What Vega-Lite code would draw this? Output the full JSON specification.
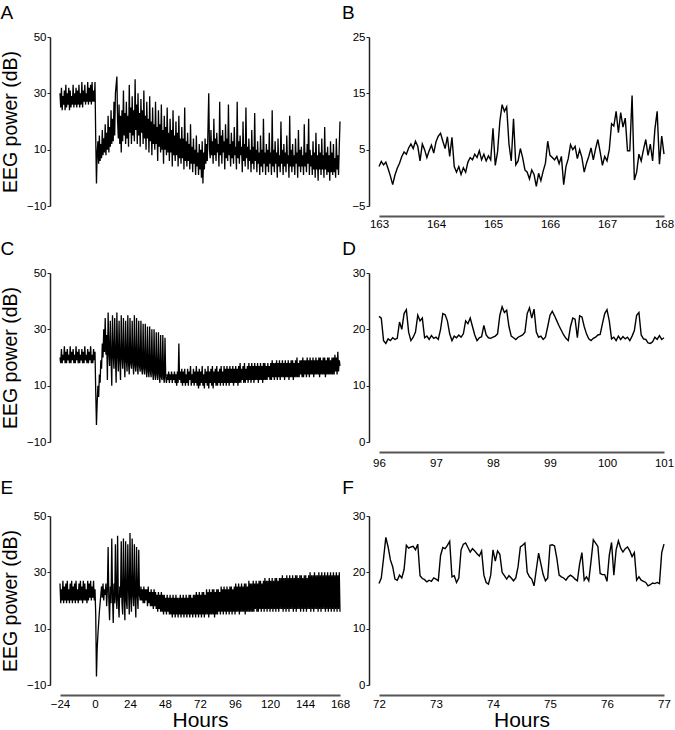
{
"$schema":"https://vega.github.io/schema/vega-lite/v6.json",
"padding":{"top":4,"left":0,"right":4,"bottom":0},
"columns":2,
"align":"each",
"spacing":{"row":10,"column":-9},
"datasets":{
"A":[{"t":-24,"v":30},{"t":-23.5,"v":25},{"t":-23,"v":32},{"t":-22.5,"v":24},{"t":-22,"v":29},{"t":-21.5,"v":26},{"t":-21,"v":31},{"t":-20.5,"v":24},{"t":-20,"v":33},{"t":-19.5,"v":25},{"t":-19,"v":30},{"t":-18.5,"v":26},{"t":-18,"v":32},{"t":-17.5,"v":24},{"t":-17,"v":31},{"t":-16.5,"v":25},{"t":-16,"v":29},{"t":-15.5,"v":26},{"t":-15,"v":33},{"t":-14.5,"v":25},{"t":-14,"v":30},{"t":-13.5,"v":26},{"t":-13,"v":32},{"t":-12.5,"v":25},{"t":-12,"v":31},{"t":-11.5,"v":26},{"t":-11,"v":33},{"t":-10.5,"v":25},{"t":-10,"v":30},{"t":-9.5,"v":26},{"t":-9,"v":34},{"t":-8.5,"v":25},{"t":-8,"v":31},{"t":-7.5,"v":27},{"t":-7,"v":33},{"t":-6.5,"v":26},{"t":-6,"v":30},{"t":-5.5,"v":27},{"t":-5,"v":34},{"t":-4.5,"v":26},{"t":-4,"v":32},{"t":-3.5,"v":27},{"t":-3,"v":33},{"t":-2.5,"v":26},{"t":-2,"v":34},{"t":-1.5,"v":27},{"t":-1,"v":31},{"t":-0.5,"v":27},{"t":0,"v":34},{"t":0.5,"v":14},{"t":1,"v":-2},{"t":1.5,"v":9},{"t":2,"v":13},{"t":2.5,"v":5},{"t":3,"v":15},{"t":3.5,"v":6},{"t":4,"v":12},{"t":4.5,"v":7},{"t":5,"v":17},{"t":5.5,"v":8},{"t":6,"v":14},{"t":6.5,"v":9},{"t":7,"v":19},{"t":7.5,"v":8},{"t":8,"v":16},{"t":8.5,"v":10},{"t":9,"v":22},{"t":9.5,"v":9},{"t":10,"v":18},{"t":10.5,"v":11},{"t":11,"v":24},{"t":11.5,"v":12},{"t":12,"v":21},{"t":12.5,"v":13},{"t":13,"v":27},{"t":13.5,"v":15},{"t":14,"v":30},{"t":14.5,"v":33},{"t":15,"v":36},{"t":15.5,"v":20},{"t":16,"v":14},{"t":16.5,"v":26},{"t":17,"v":12},{"t":17.5,"v":22},{"t":18,"v":9},{"t":18.5,"v":24},{"t":19,"v":13},{"t":19.5,"v":31},{"t":20,"v":15},{"t":20.5,"v":23},{"t":21,"v":12},{"t":21.5,"v":27},{"t":22,"v":14},{"t":22.5,"v":22},{"t":23,"v":11},{"t":23.5,"v":33},{"t":24,"v":16},{"t":24.5,"v":25},{"t":25,"v":12},{"t":25.5,"v":29},{"t":26,"v":15},{"t":26.5,"v":24},{"t":27,"v":13},{"t":27.5,"v":35},{"t":28,"v":17},{"t":28.5,"v":26},{"t":29,"v":12},{"t":29.5,"v":30},{"t":30,"v":15},{"t":30.5,"v":23},{"t":31,"v":11},{"t":31.5,"v":28},{"t":32,"v":16},{"t":32.5,"v":24},{"t":33,"v":12},{"t":33.5,"v":31},{"t":34,"v":14},{"t":34.5,"v":22},{"t":35,"v":10},{"t":35.5,"v":27},{"t":36,"v":14},{"t":36.5,"v":21},{"t":37,"v":9},{"t":37.5,"v":29},{"t":38,"v":13},{"t":38.5,"v":20},{"t":39,"v":8},{"t":39.5,"v":25},{"t":40,"v":12},{"t":40.5,"v":19},{"t":41,"v":10},{"t":41.5,"v":27},{"t":42,"v":12},{"t":42.5,"v":18},{"t":43,"v":6},{"t":43.5,"v":24},{"t":44,"v":11},{"t":44.5,"v":19},{"t":45,"v":9},{"t":45.5,"v":26},{"t":46,"v":10},{"t":46.5,"v":17},{"t":47,"v":5},{"t":47.5,"v":22},{"t":48,"v":10},{"t":48.5,"v":18},{"t":49,"v":8},{"t":49.5,"v":25},{"t":50,"v":9},{"t":50.5,"v":16},{"t":51,"v":6},{"t":51.5,"v":21},{"t":52,"v":9},{"t":52.5,"v":17},{"t":53,"v":4},{"t":53.5,"v":24},{"t":54,"v":8},{"t":54.5,"v":15},{"t":55,"v":6},{"t":55.5,"v":20},{"t":56,"v":8},{"t":56.5,"v":16},{"t":57,"v":4},{"t":57.5,"v":22},{"t":58,"v":7},{"t":58.5,"v":14},{"t":59,"v":5},{"t":59.5,"v":18},{"t":60,"v":7},{"t":60.5,"v":14},{"t":61,"v":3},{"t":61.5,"v":25},{"t":62,"v":6},{"t":62.5,"v":13},{"t":63,"v":4},{"t":63.5,"v":16},{"t":64,"v":6},{"t":64.5,"v":12},{"t":65,"v":3},{"t":65.5,"v":19},{"t":66,"v":5},{"t":66.5,"v":11},{"t":67,"v":2},{"t":67.5,"v":14},{"t":68,"v":5},{"t":68.5,"v":10},{"t":69,"v":1},{"t":69.5,"v":15},{"t":70,"v":4},{"t":70.5,"v":9},{"t":71,"v":1},{"t":71.5,"v":12},{"t":72,"v":3},{"t":72.5,"v":10},{"t":73,"v":0},{"t":73.5,"v":13},{"t":74,"v":-2},{"t":74.5,"v":9},{"t":75,"v":3},{"t":75.5,"v":14},{"t":76,"v":5},{"t":76.5,"v":12},{"t":77,"v":6},{"t":77.5,"v":18},{"t":78,"v":30},{"t":78.5,"v":10},{"t":79,"v":7},{"t":79.5,"v":17},{"t":80,"v":8},{"t":80.5,"v":13},{"t":81,"v":5},{"t":81.5,"v":21},{"t":82,"v":8},{"t":82.5,"v":14},{"t":83,"v":6},{"t":83.5,"v":16},{"t":84,"v":9},{"t":84.5,"v":12},{"t":85,"v":4},{"t":85.5,"v":27},{"t":86,"v":8},{"t":86.5,"v":15},{"t":87,"v":5},{"t":87.5,"v":17},{"t":88,"v":9},{"t":88.5,"v":13},{"t":89,"v":3},{"t":89.5,"v":19},{"t":90,"v":7},{"t":90.5,"v":14},{"t":91,"v":6},{"t":91.5,"v":26},{"t":92,"v":8},{"t":92.5,"v":12},{"t":93,"v":4},{"t":93.5,"v":16},{"t":94,"v":7},{"t":94.5,"v":13},{"t":95,"v":5},{"t":95.5,"v":18},{"t":96,"v":8},{"t":96.5,"v":11},{"t":97,"v":3},{"t":97.5,"v":27},{"t":98,"v":7},{"t":98.5,"v":13},{"t":99,"v":5},{"t":99.5,"v":15},{"t":100,"v":8},{"t":100.5,"v":11},{"t":101,"v":2},{"t":101.5,"v":20},{"t":102,"v":6},{"t":102.5,"v":12},{"t":103,"v":4},{"t":103.5,"v":25},{"t":104,"v":7},{"t":104.5,"v":11},{"t":105,"v":3},{"t":105.5,"v":14},{"t":106,"v":6},{"t":106.5,"v":10},{"t":107,"v":2},{"t":107.5,"v":17},{"t":108,"v":5},{"t":108.5,"v":11},{"t":109,"v":3},{"t":109.5,"v":23},{"t":110,"v":6},{"t":110.5,"v":10},{"t":111,"v":2},{"t":111.5,"v":13},{"t":112,"v":5},{"t":112.5,"v":9},{"t":113,"v":1},{"t":113.5,"v":15},{"t":114,"v":4},{"t":114.5,"v":10},{"t":115,"v":2},{"t":115.5,"v":21},{"t":116,"v":5},{"t":116.5,"v":9},{"t":117,"v":1},{"t":117.5,"v":12},{"t":118,"v":4},{"t":118.5,"v":10},{"t":119,"v":2},{"t":119.5,"v":16},{"t":120,"v":5},{"t":120.5,"v":9},{"t":121,"v":1},{"t":121.5,"v":24},{"t":122,"v":4},{"t":122.5,"v":10},{"t":123,"v":2},{"t":123.5,"v":13},{"t":124,"v":5},{"t":124.5,"v":9},{"t":125,"v":0},{"t":125.5,"v":14},{"t":126,"v":4},{"t":126.5,"v":8},{"t":127,"v":2},{"t":127.5,"v":20},{"t":128,"v":5},{"t":128.5,"v":10},{"t":129,"v":1},{"t":129.5,"v":12},{"t":130,"v":4},{"t":130.5,"v":9},{"t":131,"v":2},{"t":131.5,"v":15},{"t":132,"v":5},{"t":132.5,"v":8},{"t":133,"v":0},{"t":133.5,"v":22},{"t":134,"v":4},{"t":134.5,"v":10},{"t":135,"v":2},{"t":135.5,"v":12},{"t":136,"v":4},{"t":136.5,"v":8},{"t":137,"v":1},{"t":137.5,"v":14},{"t":138,"v":5},{"t":138.5,"v":9},{"t":139,"v":0},{"t":139.5,"v":17},{"t":140,"v":4},{"t":140.5,"v":10},{"t":141,"v":2},{"t":141.5,"v":11},{"t":142,"v":4},{"t":142.5,"v":8},{"t":143,"v":1},{"t":143.5,"v":19},{"t":144,"v":4},{"t":144.5,"v":9},{"t":145,"v":2},{"t":145.5,"v":12},{"t":146,"v":5},{"t":146.5,"v":21},{"t":147,"v":1},{"t":147.5,"v":10},{"t":148,"v":4},{"t":148.5,"v":8},{"t":149,"v":1},{"t":149.5,"v":13},{"t":150,"v":3},{"t":150.5,"v":9},{"t":151,"v":0},{"t":151.5,"v":16},{"t":152,"v":3},{"t":152.5,"v":8},{"t":153,"v":-1},{"t":153.5,"v":12},{"t":154,"v":3},{"t":154.5,"v":9},{"t":155,"v":1},{"t":155.5,"v":14},{"t":156,"v":3},{"t":156.5,"v":8},{"t":157,"v":0},{"t":157.5,"v":18},{"t":158,"v":3},{"t":158.5,"v":9},{"t":159,"v":1},{"t":159.5,"v":11},{"t":160,"v":2},{"t":160.5,"v":8},{"t":161,"v":-1},{"t":161.5,"v":13},{"t":162,"v":2},{"t":162.5,"v":9},{"t":163,"v":1},{"t":163.5,"v":12},{"t":164,"v":2},{"t":164.5,"v":7},{"t":165,"v":0},{"t":165.5,"v":14},{"t":166,"v":3},{"t":166.5,"v":8},{"t":167,"v":1},{"t":167.5,"v":11},{"t":168,"v":20}],
"B":[{"t":163.00,"v":2.0},{"t":163.04,"v":2.9},{"t":163.08,"v":2.3},{"t":163.12,"v":2.8},{"t":163.16,"v":1.6},{"t":163.20,"v":0.3},{"t":163.24,"v":-1.2},{"t":163.28,"v":0.5},{"t":163.32,"v":1.7},{"t":163.36,"v":2.6},{"t":163.40,"v":3.8},{"t":163.44,"v":4.6},{"t":163.48,"v":4.2},{"t":163.52,"v":5.3},{"t":163.56,"v":6.0},{"t":163.60,"v":5.2},{"t":163.64,"v":6.5},{"t":163.68,"v":5.6},{"t":163.72,"v":3.0},{"t":163.76,"v":6.0},{"t":163.80,"v":5.0},{"t":163.84,"v":3.6},{"t":163.88,"v":4.8},{"t":163.92,"v":5.8},{"t":163.96,"v":4.4},{"t":164.00,"v":6.4},{"t":164.04,"v":7.4},{"t":164.08,"v":7.9},{"t":164.12,"v":6.5},{"t":164.16,"v":5.2},{"t":164.20,"v":7.3},{"t":164.24,"v":3.8},{"t":164.28,"v":7.2},{"t":164.32,"v":2.0},{"t":164.36,"v":1.0},{"t":164.40,"v":2.0},{"t":164.44,"v":0.6},{"t":164.48,"v":1.8},{"t":164.52,"v":1.0},{"t":164.56,"v":2.8},{"t":164.60,"v":3.6},{"t":164.64,"v":3.2},{"t":164.68,"v":4.2},{"t":164.72,"v":3.6},{"t":164.76,"v":4.8},{"t":164.80,"v":3.2},{"t":164.84,"v":4.2},{"t":164.88,"v":3.0},{"t":164.92,"v":3.9},{"t":164.96,"v":3.2},{"t":165.00,"v":8.8},{"t":165.04,"v":2.2},{"t":165.08,"v":4.6},{"t":165.12,"v":10.0},{"t":165.16,"v":13.0},{"t":165.20,"v":11.8},{"t":165.24,"v":12.6},{"t":165.28,"v":6.0},{"t":165.32,"v":3.0},{"t":165.36,"v":10.5},{"t":165.40,"v":2.3},{"t":165.44,"v":3.0},{"t":165.48,"v":5.2},{"t":165.52,"v":3.6},{"t":165.56,"v":1.4},{"t":165.60,"v":1.0},{"t":165.64,"v":-0.2},{"t":165.68,"v":1.4},{"t":165.72,"v":0.6},{"t":165.76,"v":-1.5},{"t":165.80,"v":0.8},{"t":165.84,"v":-0.5},{"t":165.88,"v":1.2},{"t":165.92,"v":2.6},{"t":165.96,"v":6.5},{"t":166.00,"v":4.0},{"t":166.04,"v":3.6},{"t":166.08,"v":3.2},{"t":166.12,"v":3.8},{"t":166.16,"v":2.5},{"t":166.20,"v":3.8},{"t":166.24,"v":-1.2},{"t":166.28,"v":2.0},{"t":166.32,"v":3.4},{"t":166.36,"v":5.9},{"t":166.40,"v":5.0},{"t":166.44,"v":5.6},{"t":166.48,"v":3.4},{"t":166.52,"v":5.0},{"t":166.56,"v":3.6},{"t":166.60,"v":1.0},{"t":166.64,"v":2.6},{"t":166.68,"v":3.8},{"t":166.72,"v":5.3},{"t":166.76,"v":3.2},{"t":166.80,"v":5.2},{"t":166.84,"v":6.8},{"t":166.88,"v":4.6},{"t":166.92,"v":2.2},{"t":166.96,"v":3.8},{"t":167.00,"v":3.0},{"t":167.04,"v":5.0},{"t":167.08,"v":9.6},{"t":167.12,"v":9.2},{"t":167.16,"v":11.8},{"t":167.20,"v":8.0},{"t":167.24,"v":11.6},{"t":167.28,"v":9.0},{"t":167.32,"v":10.6},{"t":167.36,"v":4.8},{"t":167.40,"v":4.8},{"t":167.44,"v":14.6},{"t":167.48,"v":-0.4},{"t":167.52,"v":1.0},{"t":167.56,"v":4.2},{"t":167.60,"v":3.0},{"t":167.64,"v":5.0},{"t":167.68,"v":6.8},{"t":167.72,"v":4.0},{"t":167.76,"v":6.0},{"t":167.80,"v":3.0},{"t":167.84,"v":8.6},{"t":167.88,"v":11.8},{"t":167.92,"v":2.4},{"t":167.96,"v":7.4},{"t":168.00,"v":4.2}],
"C":[{"t":-24,"v":20},{"t":-23.5,"v":18},{"t":-23,"v":23},{"t":-22.5,"v":18},{"t":-22,"v":21},{"t":-21.5,"v":19},{"t":-21,"v":24},{"t":-20.5,"v":18},{"t":-20,"v":22},{"t":-19.5,"v":18},{"t":-19,"v":23},{"t":-18.5,"v":19},{"t":-18,"v":21},{"t":-17.5,"v":18},{"t":-17,"v":24},{"t":-16.5,"v":18},{"t":-16,"v":22},{"t":-15.5,"v":19},{"t":-15,"v":23},{"t":-14.5,"v":18},{"t":-14,"v":21},{"t":-13.5,"v":18},{"t":-13,"v":24},{"t":-12.5,"v":19},{"t":-12,"v":22},{"t":-11.5,"v":18},{"t":-11,"v":23},{"t":-10.5,"v":18},{"t":-10,"v":21},{"t":-9.5,"v":19},{"t":-9,"v":23},{"t":-8.5,"v":18},{"t":-8,"v":22},{"t":-7.5,"v":18},{"t":-7,"v":24},{"t":-6.5,"v":19},{"t":-6,"v":21},{"t":-5.5,"v":18},{"t":-5,"v":23},{"t":-4.5,"v":18},{"t":-4,"v":22},{"t":-3.5,"v":19},{"t":-3,"v":24},{"t":-2.5,"v":18},{"t":-2,"v":21},{"t":-1.5,"v":18},{"t":-1,"v":23},{"t":-0.5,"v":19},{"t":0,"v":22},{"t":0.5,"v":8},{"t":1,"v":-4},{"t":1.5,"v":4},{"t":2,"v":10},{"t":2.5,"v":6},{"t":3,"v":14},{"t":3.5,"v":11},{"t":4,"v":19},{"t":4.5,"v":16},{"t":5,"v":25},{"t":5.5,"v":20},{"t":6,"v":30},{"t":6.5,"v":22},{"t":7,"v":34},{"t":7.5,"v":21},{"t":8,"v":28},{"t":8.5,"v":12},{"t":9,"v":36},{"t":9.5,"v":22},{"t":10,"v":17},{"t":10.5,"v":33},{"t":11,"v":20},{"t":11.5,"v":10},{"t":12,"v":35},{"t":12.5,"v":21},{"t":13,"v":16},{"t":13.5,"v":34},{"t":14,"v":20},{"t":14.5,"v":11},{"t":15,"v":36},{"t":15.5,"v":21},{"t":16,"v":15},{"t":16.5,"v":33},{"t":17,"v":19},{"t":17.5,"v":12},{"t":18,"v":35},{"t":18.5,"v":20},{"t":19,"v":16},{"t":19.5,"v":34},{"t":20,"v":19},{"t":20.5,"v":13},{"t":21,"v":33},{"t":21.5,"v":19},{"t":22,"v":15},{"t":22.5,"v":35},{"t":23,"v":18},{"t":23.5,"v":14},{"t":24,"v":34},{"t":24.5,"v":18},{"t":25,"v":16},{"t":25.5,"v":33},{"t":26,"v":18},{"t":26.5,"v":14},{"t":27,"v":35},{"t":27.5,"v":17},{"t":28,"v":15},{"t":28.5,"v":34},{"t":29,"v":17},{"t":29.5,"v":14},{"t":30,"v":33},{"t":30.5,"v":17},{"t":31,"v":15},{"t":31.5,"v":33},{"t":32,"v":16},{"t":32.5,"v":14},{"t":33,"v":32},{"t":33.5,"v":16},{"t":34,"v":14},{"t":34.5,"v":32},{"t":35,"v":16},{"t":35.5,"v":13},{"t":36,"v":31},{"t":36.5,"v":15},{"t":37,"v":13},{"t":37.5,"v":31},{"t":38,"v":15},{"t":38.5,"v":13},{"t":39,"v":30},{"t":39.5,"v":15},{"t":40,"v":12},{"t":40.5,"v":30},{"t":41,"v":14},{"t":41.5,"v":12},{"t":42,"v":29},{"t":42.5,"v":14},{"t":43,"v":12},{"t":43.5,"v":29},{"t":44,"v":14},{"t":44.5,"v":11},{"t":45,"v":28},{"t":45.5,"v":13},{"t":46,"v":12},{"t":46.5,"v":28},{"t":47,"v":13},{"t":47.5,"v":11},{"t":48,"v":27},{"t":48.5,"v":13},{"t":49,"v":11},{"t":49.5,"v":14},{"t":50,"v":12},{"t":50.5,"v":15},{"t":51,"v":11},{"t":51.5,"v":14},{"t":52,"v":12},{"t":52.5,"v":15},{"t":53,"v":11},{"t":53.5,"v":14},{"t":54,"v":12},{"t":54.5,"v":15},{"t":55,"v":11},{"t":55.5,"v":14},{"t":56,"v":10},{"t":56.5,"v":15},{"t":57,"v":11},{"t":57.5,"v":25},{"t":58,"v":12},{"t":58.5,"v":15},{"t":59,"v":11},{"t":59.5,"v":16},{"t":60,"v":10},{"t":60.5,"v":15},{"t":61,"v":11},{"t":61.5,"v":16},{"t":62,"v":10},{"t":62.5,"v":14},{"t":63,"v":11},{"t":63.5,"v":16},{"t":64,"v":10},{"t":64.5,"v":15},{"t":65,"v":12},{"t":65.5,"v":17},{"t":66,"v":10},{"t":66.5,"v":14},{"t":67,"v":11},{"t":67.5,"v":16},{"t":68,"v":10},{"t":68.5,"v":15},{"t":69,"v":11},{"t":69.5,"v":17},{"t":70,"v":10},{"t":70.5,"v":15},{"t":71,"v":9},{"t":71.5,"v":16},{"t":72,"v":10},{"t":72.5,"v":15},{"t":73,"v":11},{"t":73.5,"v":17},{"t":74,"v":10},{"t":74.5,"v":14},{"t":75,"v":9},{"t":75.5,"v":16},{"t":76,"v":11},{"t":76.5,"v":15},{"t":77,"v":10},{"t":77.5,"v":17},{"t":78,"v":9},{"t":78.5,"v":15},{"t":79,"v":11},{"t":79.5,"v":16},{"t":80,"v":10},{"t":80.5,"v":17},{"t":81,"v":9},{"t":81.5,"v":15},{"t":82,"v":11},{"t":82.5,"v":16},{"t":83,"v":10},{"t":83.5,"v":17},{"t":84,"v":10},{"t":84.5,"v":15},{"t":85,"v":11},{"t":85.5,"v":16},{"t":86,"v":10},{"t":86.5,"v":17},{"t":87,"v":11},{"t":87.5,"v":15},{"t":88,"v":10},{"t":88.5,"v":17},{"t":89,"v":11},{"t":89.5,"v":16},{"t":90,"v":10},{"t":90.5,"v":17},{"t":91,"v":11},{"t":91.5,"v":16},{"t":92,"v":10},{"t":92.5,"v":17},{"t":93,"v":11},{"t":93.5,"v":16},{"t":94,"v":11},{"t":94.5,"v":17},{"t":95,"v":10},{"t":95.5,"v":16},{"t":96,"v":11},{"t":96.5,"v":17},{"t":97,"v":11},{"t":97.5,"v":16},{"t":98,"v":10},{"t":98.5,"v":17},{"t":99,"v":11},{"t":99.5,"v":18},{"t":100,"v":11},{"t":100.5,"v":16},{"t":101,"v":12},{"t":101.5,"v":17},{"t":102,"v":11},{"t":102.5,"v":18},{"t":103,"v":11},{"t":103.5,"v":16},{"t":104,"v":12},{"t":104.5,"v":17},{"t":105,"v":11},{"t":105.5,"v":18},{"t":106,"v":12},{"t":106.5,"v":17},{"t":107,"v":11},{"t":107.5,"v":18},{"t":108,"v":12},{"t":108.5,"v":17},{"t":109,"v":11},{"t":109.5,"v":18},{"t":110,"v":12},{"t":110.5,"v":17},{"t":111,"v":12},{"t":111.5,"v":18},{"t":112,"v":11},{"t":112.5,"v":17},{"t":113,"v":12},{"t":113.5,"v":18},{"t":114,"v":12},{"t":114.5,"v":17},{"t":115,"v":11},{"t":115.5,"v":18},{"t":116,"v":12},{"t":116.5,"v":18},{"t":117,"v":12},{"t":117.5,"v":17},{"t":118,"v":12},{"t":118.5,"v":18},{"t":119,"v":13},{"t":119.5,"v":17},{"t":120,"v":12},{"t":120.5,"v":18},{"t":121,"v":12},{"t":121.5,"v":19},{"t":122,"v":13},{"t":122.5,"v":18},{"t":123,"v":12},{"t":123.5,"v":18},{"t":124,"v":13},{"t":124.5,"v":19},{"t":125,"v":12},{"t":125.5,"v":18},{"t":126,"v":13},{"t":126.5,"v":19},{"t":127,"v":12},{"t":127.5,"v":18},{"t":128,"v":13},{"t":128.5,"v":19},{"t":129,"v":13},{"t":129.5,"v":18},{"t":130,"v":12},{"t":130.5,"v":19},{"t":131,"v":13},{"t":131.5,"v":18},{"t":132,"v":13},{"t":132.5,"v":19},{"t":133,"v":12},{"t":133.5,"v":18},{"t":134,"v":13},{"t":134.5,"v":19},{"t":135,"v":13},{"t":135.5,"v":19},{"t":136,"v":12},{"t":136.5,"v":18},{"t":137,"v":13},{"t":137.5,"v":19},{"t":138,"v":13},{"t":138.5,"v":20},{"t":139,"v":13},{"t":139.5,"v":18},{"t":140,"v":13},{"t":140.5,"v":19},{"t":141,"v":14},{"t":141.5,"v":19},{"t":142,"v":13},{"t":142.5,"v":20},{"t":143,"v":13},{"t":143.5,"v":19},{"t":144,"v":14},{"t":144.5,"v":19},{"t":145,"v":13},{"t":145.5,"v":20},{"t":146,"v":14},{"t":146.5,"v":19},{"t":147,"v":13},{"t":147.5,"v":20},{"t":148,"v":14},{"t":148.5,"v":19},{"t":149,"v":14},{"t":149.5,"v":20},{"t":150,"v":13},{"t":150.5,"v":19},{"t":151,"v":14},{"t":151.5,"v":20},{"t":152,"v":14},{"t":152.5,"v":19},{"t":153,"v":14},{"t":153.5,"v":20},{"t":154,"v":13},{"t":154.5,"v":20},{"t":155,"v":14},{"t":155.5,"v":19},{"t":156,"v":14},{"t":156.5,"v":20},{"t":157,"v":14},{"t":157.5,"v":20},{"t":158,"v":13},{"t":158.5,"v":19},{"t":159,"v":14},{"t":159.5,"v":20},{"t":160,"v":14},{"t":160.5,"v":20},{"t":161,"v":14},{"t":161.5,"v":19},{"t":162,"v":14},{"t":162.5,"v":20},{"t":163,"v":14},{"t":163.5,"v":20},{"t":164,"v":14},{"t":164.5,"v":21},{"t":165,"v":15},{"t":165.5,"v":20},{"t":166,"v":14},{"t":166.5,"v":22},{"t":167,"v":15},{"t":167.5,"v":19},{"t":168,"v":17}],
"D":[{"t":96.00,"v":22.3},{"t":96.04,"v":22.0},{"t":96.08,"v":18.0},{"t":96.12,"v":17.5},{"t":96.16,"v":18.3},{"t":96.20,"v":18.0},{"t":96.24,"v":18.5},{"t":96.28,"v":18.2},{"t":96.32,"v":18.4},{"t":96.36,"v":21.3},{"t":96.40,"v":20.0},{"t":96.44,"v":22.8},{"t":96.48,"v":23.5},{"t":96.52,"v":19.5},{"t":96.56,"v":18.0},{"t":96.60,"v":18.6},{"t":96.64,"v":19.5},{"t":96.68,"v":22.5},{"t":96.72,"v":21.5},{"t":96.76,"v":22.0},{"t":96.80,"v":18.5},{"t":96.84,"v":18.8},{"t":96.88,"v":18.2},{"t":96.92,"v":18.9},{"t":96.96,"v":18.4},{"t":97.00,"v":18.6},{"t":97.04,"v":18.2},{"t":97.08,"v":20.0},{"t":97.12,"v":22.8},{"t":97.16,"v":22.6},{"t":97.20,"v":21.5},{"t":97.24,"v":19.2},{"t":97.28,"v":18.0},{"t":97.32,"v":18.8},{"t":97.36,"v":18.5},{"t":97.40,"v":19.0},{"t":97.44,"v":18.6},{"t":97.48,"v":19.2},{"t":97.52,"v":21.5},{"t":97.56,"v":21.0},{"t":97.60,"v":22.0},{"t":97.64,"v":20.5},{"t":97.68,"v":19.0},{"t":97.72,"v":18.0},{"t":97.76,"v":18.5},{"t":97.80,"v":18.7},{"t":97.84,"v":20.7},{"t":97.88,"v":19.0},{"t":97.92,"v":18.5},{"t":97.96,"v":18.4},{"t":98.00,"v":18.6},{"t":98.04,"v":18.8},{"t":98.08,"v":19.2},{"t":98.12,"v":22.5},{"t":98.16,"v":24.0},{"t":98.20,"v":23.0},{"t":98.24,"v":23.4},{"t":98.28,"v":20.5},{"t":98.32,"v":18.8},{"t":98.36,"v":18.5},{"t":98.40,"v":18.2},{"t":98.44,"v":18.6},{"t":98.48,"v":18.8},{"t":98.52,"v":19.0},{"t":98.56,"v":19.5},{"t":98.60,"v":22.8},{"t":98.64,"v":23.8},{"t":98.68,"v":22.0},{"t":98.72,"v":23.6},{"t":98.76,"v":19.5},{"t":98.80,"v":18.6},{"t":98.84,"v":18.8},{"t":98.88,"v":18.2},{"t":98.92,"v":18.6},{"t":98.96,"v":20.5},{"t":99.00,"v":22.5},{"t":99.04,"v":23.2},{"t":99.08,"v":22.4},{"t":99.12,"v":21.5},{"t":99.16,"v":20.6},{"t":99.20,"v":19.8},{"t":99.24,"v":19.0},{"t":99.28,"v":18.4},{"t":99.32,"v":18.0},{"t":99.36,"v":20.5},{"t":99.40,"v":22.0},{"t":99.44,"v":21.8},{"t":99.48,"v":18.5},{"t":99.52,"v":22.4},{"t":99.56,"v":22.2},{"t":99.60,"v":20.5},{"t":99.64,"v":19.2},{"t":99.68,"v":18.3},{"t":99.72,"v":18.0},{"t":99.76,"v":18.4},{"t":99.80,"v":18.6},{"t":99.84,"v":19.0},{"t":99.88,"v":19.1},{"t":99.92,"v":21.0},{"t":99.96,"v":22.8},{"t":100.00,"v":23.5},{"t":100.04,"v":21.5},{"t":100.08,"v":18.3},{"t":100.12,"v":18.6},{"t":100.16,"v":18.0},{"t":100.20,"v":18.8},{"t":100.24,"v":18.2},{"t":100.28,"v":18.7},{"t":100.32,"v":18.3},{"t":100.36,"v":18.6},{"t":100.40,"v":18.0},{"t":100.44,"v":18.8},{"t":100.48,"v":19.8},{"t":100.52,"v":22.5},{"t":100.56,"v":23.0},{"t":100.60,"v":19.0},{"t":100.64,"v":18.3},{"t":100.68,"v":18.2},{"t":100.72,"v":17.6},{"t":100.76,"v":17.5},{"t":100.80,"v":17.8},{"t":100.84,"v":18.6},{"t":100.88,"v":18.2},{"t":100.92,"v":18.9},{"t":100.96,"v":18.2},{"t":101.00,"v":18.5}],
"E":[{"t":-24,"v":26},{"t":-23.5,"v":19},{"t":-23,"v":24},{"t":-22.5,"v":20},{"t":-22,"v":27},{"t":-21.5,"v":19},{"t":-21,"v":25},{"t":-20.5,"v":20},{"t":-20,"v":26},{"t":-19.5,"v":19},{"t":-19,"v":27},{"t":-18.5,"v":20},{"t":-18,"v":24},{"t":-17.5,"v":19},{"t":-17,"v":26},{"t":-16.5,"v":20},{"t":-16,"v":27},{"t":-15.5,"v":19},{"t":-15,"v":25},{"t":-14.5,"v":20},{"t":-14,"v":26},{"t":-13.5,"v":19},{"t":-13,"v":27},{"t":-12.5,"v":20},{"t":-12,"v":24},{"t":-11.5,"v":19},{"t":-11,"v":26},{"t":-10.5,"v":20},{"t":-10,"v":27},{"t":-9.5,"v":20},{"t":-9,"v":25},{"t":-8.5,"v":19},{"t":-8,"v":27},{"t":-7.5,"v":20},{"t":-7,"v":26},{"t":-6.5,"v":20},{"t":-6,"v":24},{"t":-5.5,"v":19},{"t":-5,"v":27},{"t":-4.5,"v":20},{"t":-4,"v":26},{"t":-3.5,"v":21},{"t":-3,"v":27},{"t":-2.5,"v":20},{"t":-2,"v":25},{"t":-1.5,"v":21},{"t":-1,"v":27},{"t":-0.5,"v":20},{"t":0,"v":24},{"t":0.5,"v":15},{"t":1,"v":-7},{"t":1.5,"v":3},{"t":2,"v":8},{"t":2.5,"v":12},{"t":3,"v":16},{"t":3.5,"v":19},{"t":4,"v":22},{"t":4.5,"v":25},{"t":5,"v":21},{"t":5.5,"v":26},{"t":6,"v":20},{"t":6.5,"v":24},{"t":7,"v":22},{"t":7.5,"v":26},{"t":8,"v":18},{"t":8.5,"v":24},{"t":9,"v":39},{"t":9.5,"v":20},{"t":10,"v":13},{"t":10.5,"v":25},{"t":11,"v":19},{"t":11.5,"v":42},{"t":12,"v":22},{"t":12.5,"v":12},{"t":13,"v":26},{"t":13.5,"v":19},{"t":14,"v":40},{"t":14.5,"v":21},{"t":15,"v":17},{"t":15.5,"v":43},{"t":16,"v":20},{"t":16.5,"v":14},{"t":17,"v":25},{"t":17.5,"v":21},{"t":18,"v":41},{"t":18.5,"v":19},{"t":19,"v":15},{"t":19.5,"v":42},{"t":20,"v":22},{"t":20.5,"v":13},{"t":21,"v":41},{"t":21.5,"v":20},{"t":22,"v":17},{"t":22.5,"v":40},{"t":23,"v":24},{"t":23.5,"v":15},{"t":24,"v":44},{"t":24.5,"v":21},{"t":25,"v":16},{"t":25.5,"v":42},{"t":26,"v":22},{"t":26.5,"v":18},{"t":27,"v":40},{"t":27.5,"v":21},{"t":28,"v":14},{"t":28.5,"v":39},{"t":29,"v":22},{"t":29.5,"v":17},{"t":30,"v":38},{"t":30.5,"v":22},{"t":31,"v":20},{"t":31.5,"v":25},{"t":32,"v":20},{"t":32.5,"v":24},{"t":33,"v":19},{"t":33.5,"v":25},{"t":34,"v":19},{"t":34.5,"v":24},{"t":35,"v":20},{"t":35.5,"v":24},{"t":36,"v":18},{"t":36.5,"v":25},{"t":37,"v":19},{"t":37.5,"v":23},{"t":38,"v":18},{"t":38.5,"v":24},{"t":39,"v":18},{"t":39.5,"v":23},{"t":40,"v":17},{"t":40.5,"v":24},{"t":41,"v":18},{"t":41.5,"v":23},{"t":42,"v":17},{"t":42.5,"v":22},{"t":43,"v":16},{"t":43.5,"v":23},{"t":44,"v":17},{"t":44.5,"v":22},{"t":45,"v":16},{"t":45.5,"v":23},{"t":46,"v":16},{"t":46.5,"v":22},{"t":47,"v":15},{"t":47.5,"v":22},{"t":48,"v":16},{"t":48.5,"v":21},{"t":49,"v":15},{"t":49.5,"v":22},{"t":50,"v":16},{"t":50.5,"v":21},{"t":51,"v":15},{"t":51.5,"v":22},{"t":52,"v":15},{"t":52.5,"v":21},{"t":53,"v":14},{"t":53.5,"v":22},{"t":54,"v":15},{"t":54.5,"v":21},{"t":55,"v":14},{"t":55.5,"v":22},{"t":56,"v":15},{"t":56.5,"v":21},{"t":57,"v":14},{"t":57.5,"v":21},{"t":58,"v":15},{"t":58.5,"v":22},{"t":59,"v":14},{"t":59.5,"v":21},{"t":60,"v":15},{"t":60.5,"v":22},{"t":61,"v":14},{"t":61.5,"v":21},{"t":62,"v":15},{"t":62.5,"v":22},{"t":63,"v":14},{"t":63.5,"v":21},{"t":64,"v":15},{"t":64.5,"v":22},{"t":65,"v":14},{"t":65.5,"v":22},{"t":66,"v":15},{"t":66.5,"v":21},{"t":67,"v":14},{"t":67.5,"v":22},{"t":68,"v":15},{"t":68.5,"v":22},{"t":69,"v":14},{"t":69.5,"v":23},{"t":70,"v":15},{"t":70.5,"v":22},{"t":71,"v":14},{"t":71.5,"v":23},{"t":72,"v":15},{"t":72.5,"v":22},{"t":73,"v":14},{"t":73.5,"v":23},{"t":74,"v":15},{"t":74.5,"v":23},{"t":75,"v":14},{"t":75.5,"v":22},{"t":76,"v":15},{"t":76.5,"v":24},{"t":77,"v":15},{"t":77.5,"v":23},{"t":78,"v":14},{"t":78.5,"v":24},{"t":79,"v":15},{"t":79.5,"v":23},{"t":80,"v":15},{"t":80.5,"v":24},{"t":81,"v":15},{"t":81.5,"v":24},{"t":82,"v":14},{"t":82.5,"v":23},{"t":83,"v":15},{"t":83.5,"v":24},{"t":84,"v":15},{"t":84.5,"v":24},{"t":85,"v":16},{"t":85.5,"v":23},{"t":86,"v":15},{"t":86.5,"v":25},{"t":87,"v":16},{"t":87.5,"v":24},{"t":88,"v":15},{"t":88.5,"v":25},{"t":89,"v":16},{"t":89.5,"v":24},{"t":90,"v":15},{"t":90.5,"v":25},{"t":91,"v":16},{"t":91.5,"v":24},{"t":92,"v":15},{"t":92.5,"v":25},{"t":93,"v":16},{"t":93.5,"v":25},{"t":94,"v":15},{"t":94.5,"v":24},{"t":95,"v":16},{"t":95.5,"v":25},{"t":96,"v":15},{"t":96.5,"v":26},{"t":97,"v":16},{"t":97.5,"v":25},{"t":98,"v":16},{"t":98.5,"v":26},{"t":99,"v":15},{"t":99.5,"v":25},{"t":100,"v":16},{"t":100.5,"v":26},{"t":101,"v":16},{"t":101.5,"v":25},{"t":102,"v":16},{"t":102.5,"v":26},{"t":103,"v":15},{"t":103.5,"v":26},{"t":104,"v":16},{"t":104.5,"v":25},{"t":105,"v":16},{"t":105.5,"v":27},{"t":106,"v":16},{"t":106.5,"v":26},{"t":107,"v":16},{"t":107.5,"v":26},{"t":108,"v":16},{"t":108.5,"v":27},{"t":109,"v":16},{"t":109.5,"v":26},{"t":110,"v":17},{"t":110.5,"v":27},{"t":111,"v":16},{"t":111.5,"v":26},{"t":112,"v":16},{"t":112.5,"v":27},{"t":113,"v":17},{"t":113.5,"v":27},{"t":114,"v":16},{"t":114.5,"v":26},{"t":115,"v":17},{"t":115.5,"v":27},{"t":116,"v":16},{"t":116.5,"v":28},{"t":117,"v":17},{"t":117.5,"v":27},{"t":118,"v":16},{"t":118.5,"v":27},{"t":119,"v":17},{"t":119.5,"v":28},{"t":120,"v":16},{"t":120.5,"v":27},{"t":121,"v":17},{"t":121.5,"v":28},{"t":122,"v":16},{"t":122.5,"v":27},{"t":123,"v":17},{"t":123.5,"v":28},{"t":124,"v":16},{"t":124.5,"v":28},{"t":125,"v":17},{"t":125.5,"v":27},{"t":126,"v":16},{"t":126.5,"v":28},{"t":127,"v":17},{"t":127.5,"v":28},{"t":128,"v":17},{"t":128.5,"v":29},{"t":129,"v":16},{"t":129.5,"v":28},{"t":130,"v":17},{"t":130.5,"v":28},{"t":131,"v":16},{"t":131.5,"v":29},{"t":132,"v":17},{"t":132.5,"v":28},{"t":133,"v":16},{"t":133.5,"v":29},{"t":134,"v":17},{"t":134.5,"v":28},{"t":135,"v":17},{"t":135.5,"v":29},{"t":136,"v":16},{"t":136.5,"v":28},{"t":137,"v":17},{"t":137.5,"v":29},{"t":138,"v":16},{"t":138.5,"v":29},{"t":139,"v":17},{"t":139.5,"v":28},{"t":140,"v":17},{"t":140.5,"v":29},{"t":141,"v":16},{"t":141.5,"v":29},{"t":142,"v":17},{"t":142.5,"v":28},{"t":143,"v":16},{"t":143.5,"v":29},{"t":144,"v":17},{"t":144.5,"v":29},{"t":145,"v":16},{"t":145.5,"v":28},{"t":146,"v":17},{"t":146.5,"v":29},{"t":147,"v":17},{"t":147.5,"v":30},{"t":148,"v":16},{"t":148.5,"v":29},{"t":149,"v":17},{"t":149.5,"v":29},{"t":150,"v":16},{"t":150.5,"v":30},{"t":151,"v":17},{"t":151.5,"v":29},{"t":152,"v":17},{"t":152.5,"v":29},{"t":153,"v":16},{"t":153.5,"v":30},{"t":154,"v":17},{"t":154.5,"v":29},{"t":155,"v":16},{"t":155.5,"v":30},{"t":156,"v":17},{"t":156.5,"v":29},{"t":157,"v":17},{"t":157.5,"v":30},{"t":158,"v":16},{"t":158.5,"v":29},{"t":159,"v":17},{"t":159.5,"v":30},{"t":160,"v":16},{"t":160.5,"v":29},{"t":161,"v":17},{"t":161.5,"v":30},{"t":162,"v":16},{"t":162.5,"v":29},{"t":163,"v":17},{"t":163.5,"v":30},{"t":164,"v":16},{"t":164.5,"v":29},{"t":165,"v":17},{"t":165.5,"v":30},{"t":166,"v":16},{"t":166.5,"v":29},{"t":167,"v":17},{"t":167.5,"v":30},{"t":168,"v":16}],
"F":[{"t":72.00,"v":18.0},{"t":72.04,"v":19.0},{"t":72.08,"v":22.5},{"t":72.12,"v":26.2},{"t":72.16,"v":24.5},{"t":72.20,"v":22.2},{"t":72.24,"v":21.0},{"t":72.28,"v":18.8},{"t":72.32,"v":18.6},{"t":72.36,"v":19.5},{"t":72.40,"v":19.0},{"t":72.44,"v":20.5},{"t":72.48,"v":24.8},{"t":72.52,"v":24.3},{"t":72.56,"v":24.5},{"t":72.60,"v":24.6},{"t":72.64,"v":24.0},{"t":72.68,"v":25.0},{"t":72.72,"v":19.4},{"t":72.76,"v":18.9},{"t":72.80,"v":18.7},{"t":72.84,"v":18.3},{"t":72.88,"v":18.6},{"t":72.92,"v":18.4},{"t":72.96,"v":19.0},{"t":73.00,"v":18.8},{"t":73.04,"v":18.5},{"t":73.08,"v":23.0},{"t":73.12,"v":24.4},{"t":73.16,"v":24.2},{"t":73.20,"v":24.8},{"t":73.24,"v":25.5},{"t":73.28,"v":19.2},{"t":73.32,"v":19.4},{"t":73.36,"v":18.2},{"t":73.40,"v":19.0},{"t":73.44,"v":24.0},{"t":73.48,"v":25.0},{"t":73.52,"v":25.2},{"t":73.56,"v":24.4},{"t":73.60,"v":23.6},{"t":73.64,"v":24.2},{"t":73.68,"v":23.8},{"t":73.72,"v":23.3},{"t":73.76,"v":22.9},{"t":73.80,"v":23.8},{"t":73.84,"v":19.5},{"t":73.88,"v":18.2},{"t":73.92,"v":17.9},{"t":73.96,"v":19.5},{"t":74.00,"v":24.0},{"t":74.04,"v":22.0},{"t":74.08,"v":23.8},{"t":74.12,"v":23.2},{"t":74.16,"v":20.0},{"t":74.20,"v":19.4},{"t":74.24,"v":18.8},{"t":74.28,"v":19.4},{"t":74.32,"v":19.0},{"t":74.36,"v":18.5},{"t":74.40,"v":19.0},{"t":74.44,"v":21.0},{"t":74.48,"v":24.5},{"t":74.52,"v":24.8},{"t":74.56,"v":25.2},{"t":74.60,"v":20.0},{"t":74.64,"v":19.2},{"t":74.68,"v":18.8},{"t":74.72,"v":17.6},{"t":74.76,"v":20.5},{"t":74.80,"v":23.4},{"t":74.84,"v":21.5},{"t":74.88,"v":19.6},{"t":74.92,"v":18.5},{"t":74.96,"v":19.0},{"t":75.00,"v":24.8},{"t":75.04,"v":24.9},{"t":75.08,"v":24.7},{"t":75.12,"v":22.5},{"t":75.16,"v":19.5},{"t":75.20,"v":19.2},{"t":75.24,"v":19.0},{"t":75.28,"v":18.6},{"t":75.32,"v":19.2},{"t":75.36,"v":19.5},{"t":75.40,"v":19.2},{"t":75.44,"v":18.8},{"t":75.48,"v":18.5},{"t":75.52,"v":21.5},{"t":75.56,"v":23.5},{"t":75.60,"v":18.6},{"t":75.64,"v":19.2},{"t":75.68,"v":18.5},{"t":75.72,"v":22.0},{"t":75.76,"v":25.8},{"t":75.80,"v":25.2},{"t":75.84,"v":24.6},{"t":75.88,"v":19.8},{"t":75.92,"v":19.6},{"t":75.96,"v":19.6},{"t":76.00,"v":18.4},{"t":76.04,"v":23.0},{"t":76.08,"v":25.3},{"t":76.12,"v":19.5},{"t":76.16,"v":24.0},{"t":76.20,"v":25.6},{"t":76.24,"v":24.3},{"t":76.28,"v":23.6},{"t":76.32,"v":24.2},{"t":76.36,"v":24.5},{"t":76.40,"v":23.8},{"t":76.44,"v":22.8},{"t":76.48,"v":23.5},{"t":76.52,"v":18.6},{"t":76.56,"v":19.2},{"t":76.60,"v":18.6},{"t":76.64,"v":18.4},{"t":76.68,"v":18.2},{"t":76.72,"v":17.6},{"t":76.76,"v":17.8},{"t":76.80,"v":18.1},{"t":76.84,"v":18.0},{"t":76.88,"v":18.2},{"t":76.92,"v":18.0},{"t":76.96,"v":23.5},{"t":77.00,"v":25.0}]
},
"concat":[
{"data":{"name":"A"},"width":280,"height":169,"title":{"text":"A"},
 "mark":{"type":"line","color":"#000","strokeWidth":1.3},
 "encoding":{
  "x":{"field":"t","type":"quantitative","scale":{"domain":[-24,168],"nice":false,"zero":false},"axis":null},
  "y":{"field":"v","type":"quantitative","scale":{"domain":[-10,50],"nice":false,"zero":false},"axis":{"values":[-10,10,30,50],"title":"EEG power (dB)"}}}},
{"data":{"name":"B"},"width":285,"height":169,"title":{"text":"B","dx":-10},
 "mark":{"type":"line","color":"#000","strokeWidth":1.4},
 "encoding":{
  "x":{"field":"t","type":"quantitative","scale":{"domain":[163,168],"nice":false,"zero":false},"axis":{"values":[163,164,165,166,167,168],"title":null,"labelPadding":2}},
  "y":{"field":"v","type":"quantitative","scale":{"domain":[-5,25],"nice":false,"zero":false},"axis":{"values":[-5,5,15,25],"title":null}}}},
{"data":{"name":"C"},"width":280,"height":169,"title":{"text":"C"},
 "mark":{"type":"line","color":"#000","strokeWidth":1.3},
 "encoding":{
  "x":{"field":"t","type":"quantitative","scale":{"domain":[-24,168],"nice":false,"zero":false},"axis":null},
  "y":{"field":"v","type":"quantitative","scale":{"domain":[-10,50],"nice":false,"zero":false},"axis":{"values":[-10,10,30,50],"title":"EEG power (dB)"}}}},
{"data":{"name":"D"},"width":285,"height":169,"title":{"text":"D","dx":-10},
 "mark":{"type":"line","color":"#000","strokeWidth":1.4},
 "encoding":{
  "x":{"field":"t","type":"quantitative","scale":{"domain":[96,101],"nice":false,"zero":false},"axis":{"values":[96,97,98,99,100,101],"title":null,"labelPadding":5}},
  "y":{"field":"v","type":"quantitative","scale":{"domain":[0,30],"nice":false,"zero":false},"axis":{"values":[0,10,20,30],"title":null}}}},
{"data":{"name":"E"},"width":280,"height":169,"title":{"text":"E","offset":12},
 "mark":{"type":"line","color":"#000","strokeWidth":1.3},
 "encoding":{
  "x":{"field":"t","type":"quantitative","scale":{"domain":[-24,168],"nice":false,"zero":false},"axis":{"values":[-24,0,24,48,72,96,120,144,168],"title":"Hours","labelPadding":3}},
  "y":{"field":"v","type":"quantitative","scale":{"domain":[-10,50],"nice":false,"zero":false},"axis":{"values":[-10,10,30,50],"title":"EEG power (dB)"}}}},
{"data":{"name":"F"},"width":285,"height":169,"title":{"text":"F","dx":-10,"offset":12},
 "mark":{"type":"line","color":"#000","strokeWidth":1.4},
 "encoding":{
  "x":{"field":"t","type":"quantitative","scale":{"domain":[72,77],"nice":false,"zero":false},"axis":{"values":[72,73,74,75,76,77],"title":"Hours","labelPadding":3}},
  "y":{"field":"v","type":"quantitative","scale":{"domain":[0,30],"nice":false,"zero":false},"axis":{"values":[0,10,20,30],"title":null}}}}
],
"config":{
 "view":{"stroke":null},
 "font":"Liberation Sans",
 "axis":{"labelFont":"Liberation Sans","labelFontSize":11.5,"labelColor":"#000","titleFont":"Liberation Sans","titleFontWeight":"normal","titleColor":"#000","grid":false,"labelFlush":false,"labelOverlap":false},
 "axisY":{"offset":10,"tickSize":3,"tickWidth":1,"tickColor":"#222","domainWidth":1.5,"domainColor":"#222","labelPadding":1,"titleFontSize":19.5,"titlePadding":6},
 "axisX":{"offset":10,"ticks":false,"domainWidth":2,"domainColor":"#555","titleFontSize":21,"titlePadding":0},
 "title":{"font":"Liberation Sans","fontSize":19,"fontWeight":"normal","anchor":"start","frame":"bounds","color":"#000","offset":8}
}
}
